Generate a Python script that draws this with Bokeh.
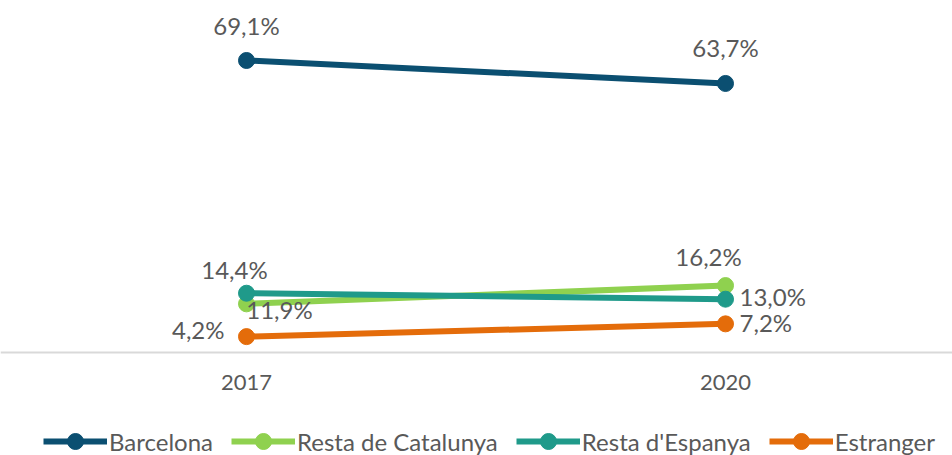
from bokeh.plotting import figure
from bokeh.models import ColumnDataSource, FixedTicker, Legend, LegendItem
from bokeh.core.properties import value
from bokeh.embed import file_html
from bokeh.resources import INLINE

# ---- data ----
years = [2017, 2020]
year_labels = ["2017", "2020"]
series_names = ["Barcelona", "Resta de Catalunya", "Resta d'Espanya", "Estranger"]
barcelona = [69.1, 63.7]
resta_catalunya = [11.9, 16.2]
resta_espanya = [14.4, 13.0]
estranger = [4.2, 7.2]

# ---- styles ----
colors = ["#0B4F71", "#8FD14F", "#1F9A8A", "#E46C0A"]
FONT = "Lato"
TEXT_COLOR = "#595959"
# data-label placement per series: (x_offset, y_offset, align) for each year
label_place = [
    [(0, -35, "center"), (0, -36, "center")],
    [(33, 6, "center"), (-17, -29, "center")],
    [(-12, -24, "center"), (14, -3, "left")],
    [(-22, -7, "right"), (14, -1, "left")],
]

series_values = [barcelona, resta_catalunya, resta_espanya, estranger]

p = figure(frame_width=952, frame_height=455,
           x_range=(2015.4593, 2021.4216), y_range=(-23.74, 83.2),
           output_backend="svg", toolbar_location=None,
           min_border_left=0, min_border_right=0, min_border_top=0,
           min_border_bottom=0)
p.outline_line_color = None
p.xgrid.visible = False
p.ygrid.visible = False
p.yaxis.visible = False
p.background_fill_color = None
p.border_fill_color = None

xa = p.xaxis[0]
xa.fixed_location = 0.47
xa.ticker = FixedTicker(ticks=years)
xa.major_label_overrides = {y: l for y, l in zip(years, year_labels)}
xa.axis_line_color = "#D9D9D9"
xa.axis_line_width = 2
xa.major_tick_line_color = None
xa.minor_tick_line_color = None
xa.major_tick_out = 0
xa.major_tick_in = 0
xa.major_label_standoff = 23
xa.major_label_text_font = FONT
xa.major_label_text_font_size = "22px"
xa.major_label_text_color = TEXT_COLOR

items = []
for name, vals, col, place in zip(series_names, series_values, colors, label_place):
    src = ColumnDataSource(dict(
        x=years, y=vals,
        label=[f"{v:.1f}".replace(".", ",") + "%" for v in vals],
        xo=[pl[0] for pl in place], yo=[pl[1] for pl in place],
        al=[pl[2] for pl in place],
    ))
    lr = p.line("x", "y", source=src, line_color=col, line_width=6)
    sr = p.scatter("x", "y", source=src, size=16, marker="circle",
                   fill_color=col, line_color=col)
    p.text("x", "y", text="label", source=src, x_offset="xo", y_offset="yo",
           text_align="al", text_baseline="middle",
           text_font=value(FONT), text_font_size="24px", text_color=TEXT_COLOR)
    items.append(LegendItem(label=name, renderers=[lr, sr]))

legend = Legend(items=items, orientation="horizontal", location=(43, -6),
                glyph_width=64, glyph_height=40, label_standoff=2, spacing=18,
                border_line_color=None, background_fill_alpha=0,
                label_text_font=FONT, label_text_font_size="24px",
                label_text_color=TEXT_COLOR, margin=0, padding=0)
p.add_layout(legend, "center")

open("out.html", "w").write(file_html(p, INLINE))
